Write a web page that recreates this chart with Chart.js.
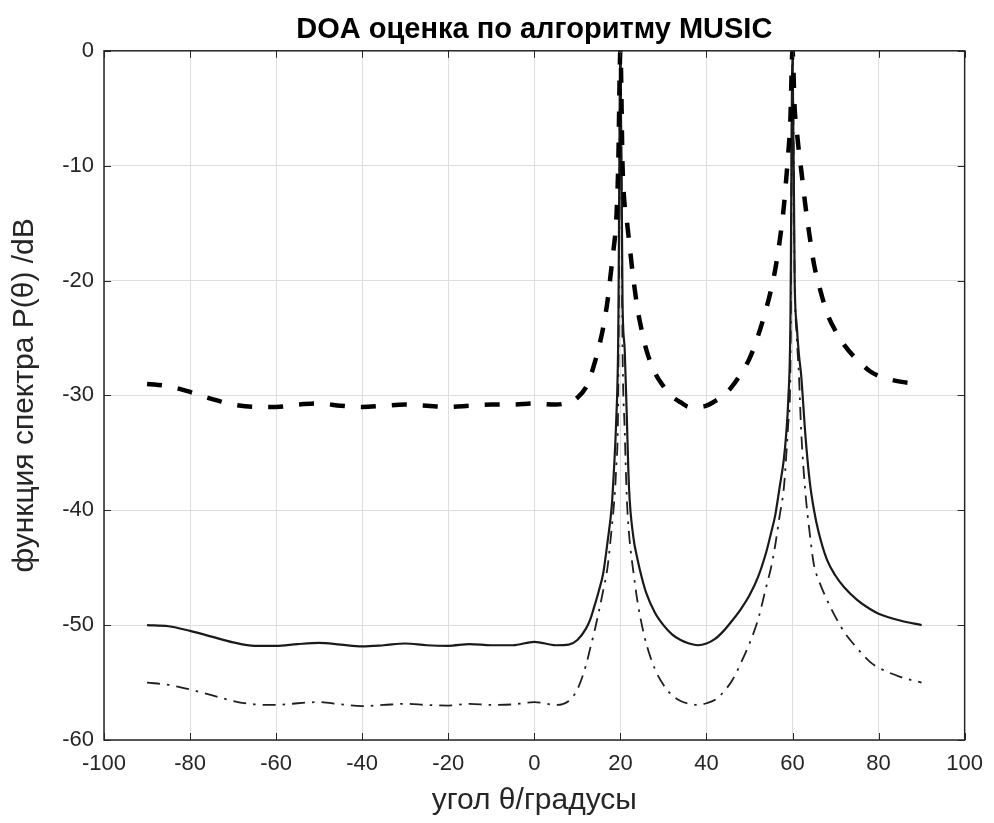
<!DOCTYPE html>
<html>
<head>
<meta charset="utf-8">
<title>DOA MUSIC</title>
<script src="https://cdn.jsdelivr.net/npm/chart.js@4.4.1/dist/chart.umd.min.js"></script>
<style>
  html, body { margin: 0; padding: 0; background: #fff; }
  #wrap { width: 994px; height: 823px; }
</style>
</head>
<body>
<div id="wrap"><canvas id="doaChart" width="994" height="823"></canvas></div>
<script>
// ── Data ───────────────────────────────────────
const angles = [
  -90, -85, -80, -75, -70, -65, -60, -55, -50, -45, -40, -35, -30, -25, -20, -15, -10, -5, 0, 5,
  8, 10, 12, 13, 14, 15, 16, 17, 18,
  18.5, 19, 19.5, 20, 20.5, 21, 21.5, 22,
  23, 24, 25, 26,
  28, 30, 32, 34, 36, 38, 40, 42, 44, 46, 48, 50, 52,
  54, 55, 56, 57, 58,
  58.5, 59, 59.5, 60, 60.5, 61, 61.5, 62,
  63, 64, 65, 66,
  68, 70, 72,
  75, 78, 80, 85, 90
];

// thick dashed curve
const spectrumDashed = [
  -29.0, -29.2, -29.7, -30.3, -30.8, -31.0, -31.0, -30.8, -30.7, -30.9, -31.0, -30.9, -30.8, -30.9, -31.0, -30.9, -30.8, -30.8, -30.7, -30.8,
  -30.6, -30.2, -29.3, -28.4, -27.2, -25.8, -24.1, -21.8, -18.6,
  -17.0, -15.0, -10.0, 0, -10.0, -13.5, -14.8, -16.5,
  -19.8, -22.5, -24.4, -26.0,
  -28.0, -29.2, -30.1, -30.6, -31.0, -31.0, -30.9, -30.5, -30.0, -29.2, -28.1, -26.8, -24.8,
  -22.3, -20.8, -19.0, -16.6, -13.5,
  -11.3, -9.0, -6.0, 0, -5.0, -7.0, -8.8, -10.3,
  -13.5, -16.2, -18.6, -20.2,
  -22.8, -24.4, -25.6,
  -26.9, -27.9, -28.3, -28.8, -29.0
];

// solid curve
const spectrumSolid = [
  -50.0, -50.1, -50.5, -51.0, -51.5, -51.8, -51.8, -51.65, -51.55, -51.7, -51.85, -51.75, -51.6, -51.75, -51.8, -51.65, -51.75, -51.75, -51.45, -51.75,
  -51.7, -51.3, -50.3, -49.5, -48.3, -47.0, -45.5, -42.8, -39.6,
  -36.5, -32.5, -25.0, 0, -22.0, -26.0, -32.0, -38.0,
  -42.3, -44.3, -45.9, -47.2,
  -48.9, -50.0, -50.8, -51.3, -51.6, -51.75, -51.6, -51.2, -50.5, -49.6, -48.6, -47.4, -45.8,
  -43.5, -42.0, -40.4, -38.0, -35.5,
  -33.5, -30.5, -24.0, 0, -20.0, -24.0, -26.5, -28.2,
  -33.5, -37.5, -40.0, -41.8,
  -44.3, -45.7, -46.7,
  -47.8, -48.6, -49.0, -49.6, -50.0
];

// thin dash-dot curve
const spectrumDashDot = [
  -55.0, -55.2, -55.6, -56.1, -56.6, -56.9, -56.95, -56.8, -56.7, -56.9, -57.05, -56.95, -56.85, -56.95, -57.0, -56.85, -56.95, -56.9, -56.7, -56.95,
  -56.6, -55.6, -53.5, -52.0, -50.5, -48.8, -47.0, -45.0, -41.5,
  -39.5, -36.5, -30.0, 0, -26.0, -33.0, -39.0, -42.0,
  -45.3, -48.0, -50.0, -51.6,
  -53.8, -55.2, -56.1, -56.6, -56.85, -56.95, -56.8, -56.5, -55.8, -54.8, -53.3, -51.6, -49.5,
  -46.5, -45.0, -43.0, -40.5, -38.0,
  -35.5, -32.5, -28.0, 0, -20.0, -25.0, -28.3, -33.0,
  -38.5, -42.0, -44.8, -46.0,
  -47.8, -49.3, -50.6,
  -52.0, -53.2, -53.7, -54.5, -55.0
];

const xTicks = [-100, -80, -60, -40, -20, 0, 20, 40, 60, 80, 100];
const yTicks = [-60, -50, -40, -30, -20, -10, 0];

const titleText  = 'DOA оценка по алгоритму MUSIC';
const xLabelText = 'угол θ/градусы';
const yLabelText = 'функция спектра P(θ) /dB';

// ── Helpers ───────────────────────────────────
const FONT = '"Liberation Sans", Arial, Helvetica, sans-serif';
const AXIS_COLOR = '#262626';

function toPoints(values) {
  return angles.map((a, i) => ({ x: a, y: values[i] }));
}

// MATLAB-like box with inward ticks on all four sides
const boxPlugin = {
  id: 'matlabBox',
  afterDatasetsDraw(chart) {
    const { ctx, chartArea: a, scales } = chart;
    const len = 7;
    ctx.save();
    ctx.strokeStyle = AXIS_COLOR;
    ctx.lineWidth = 1;
    ctx.beginPath();
    scales.x.ticks.forEach(t => {
      const px = Math.round(scales.x.getPixelForValue(t.value)) + 0.5;
      ctx.moveTo(px, a.bottom); ctx.lineTo(px, a.bottom - len);
      ctx.moveTo(px, a.top);    ctx.lineTo(px, a.top + len);
    });
    scales.y.ticks.forEach(t => {
      const py = Math.round(scales.y.getPixelForValue(t.value)) + 0.5;
      ctx.moveTo(a.left, py);  ctx.lineTo(a.left + len, py);
      ctx.moveTo(a.right, py); ctx.lineTo(a.right - len, py);
    });
    ctx.stroke();
    ctx.lineWidth = 1.5;
    ctx.strokeRect(a.left, a.top, a.right - a.left, a.bottom - a.top);
    ctx.restore();
  }
};

// ── Chart ─────────────────────────────────────
new Chart(document.getElementById('doaChart'), {
  type: 'line',
  data: {
    datasets: [
      {
        label: 'dashed',
        data: toPoints(spectrumDashed),
        borderColor: '#000000',
        borderWidth: 4.5,
        borderDash: [15, 16],
        pointRadius: 0,
        cubicInterpolationMode: 'monotone',
        fill: false,
      },
      {
        label: 'solid',
        data: toPoints(spectrumSolid),
        borderColor: '#1a1a1a',
        borderWidth: 2.2,
        pointRadius: 0,
        cubicInterpolationMode: 'monotone',
        fill: false,
      },
      {
        label: 'dash-dot',
        data: toPoints(spectrumDashDot),
        borderColor: '#1f1f1f',
        borderWidth: 1.8,
        borderDash: [13, 7, 2.5, 7],
        pointRadius: 0,
        cubicInterpolationMode: 'monotone',
        fill: false,
      },
    ],
  },
  options: {
    responsive: false,
    animation: false,
    devicePixelRatio: 1,
    layout: { padding: { left: 0, right: 28, top: 0, bottom: 0 } },
    plugins: {
      legend: { display: false },
      tooltip: { enabled: false },
      title: {
        display: true,
        text: titleText,
        fullSize: false,
        color: '#000000',
        font: { family: FONT, size: 29, weight: 'bold' },
        padding: { top: 13, bottom: 3 },
      },
    },
    scales: {
      x: {
        type: 'linear',
        min: -100,
        max: 100,
        afterBuildTicks: s => { s.ticks = xTicks.map(v => ({ value: v })); },
        afterFit: s => { s.height = 83; },
        grid: { color: '#dedede', lineWidth: 1, drawTicks: false },
        border: { display: false },
        ticks: {
          color: AXIS_COLOR,
          padding: 11,
          maxRotation: 0,
          font: { family: FONT, size: 22 },
        },
        title: {
          display: true,
          text: xLabelText,
          color: AXIS_COLOR,
          font: { family: FONT, size: 30 },
          padding: { top: 0, bottom: 4 },
        },
      },
      y: {
        type: 'linear',
        min: -60,
        max: 0,
        afterBuildTicks: s => { s.ticks = yTicks.map(v => ({ value: v })); },
        afterFit: s => { s.width = 104; },
        grid: { color: '#dedede', lineWidth: 1, drawTicks: false },
        border: { display: false },
        ticks: {
          color: AXIS_COLOR,
          padding: 10,
          font: { family: FONT, size: 22 },
        },
        title: {
          display: true,
          text: yLabelText,
          color: AXIS_COLOR,
          font: { family: FONT, size: 30 },
          padding: { top: 7, bottom: 0 },
        },
      },
    },
  },
  plugins: [boxPlugin],
});
</script>
</body>
</html>
